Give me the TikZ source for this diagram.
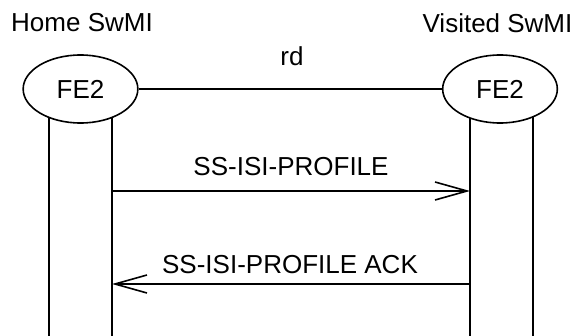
\documentclass[tikz,border=0pt]{standalone}
\usepackage{fontspec}
\setmainfont{Liberation Sans}
\usetikzlibrary{shapes.geometric,arrows.meta}
\begin{document}
\begin{tikzpicture}[x=0.75pt,y=-0.75pt,
  every node/.style={font=\fontsize{19.5}{23}\selectfont, inner sep=0pt},
  ln/.style={line width=1.2pt, line cap=butt},
  fe/.style={ellipse, draw, line width=1.2pt, fill=white, minimum width=86pt, minimum height=51pt},
  msg/.style={ln, -{Straight Barb[length=24pt, width=13.5pt, line width=1.2pt]}},
  lbl/.style={anchor=base}]
\useasboundingbox (0,0) rectangle (577,335);
% lifeline coordinates
\coordinate (h1t) at (49,89);  \coordinate (h1b) at (49,336);
\coordinate (h2t) at (112,89); \coordinate (h2b) at (112,336);
\coordinate (v1t) at (470,89); \coordinate (v1b) at (470,336);
\coordinate (v2t) at (533,89); \coordinate (v2b) at (533,336);
\draw[ln] (h1t) -- (h1b);
\draw[ln] (h2t) -- (h2b);
\draw[ln] (v1t) -- (v1b);
\draw[ln] (v2t) -- (v2b);
% FE nodes
\node[fe] (feh) at (80.5,89) {FE2};
\node[fe] (fev) at (500,89) {FE2};
\draw[ln] (feh) -- (fev);
% labels
\node[lbl] (home) at (82,31.7) {Home SwMI};
\node[lbl] (visited) at (497.5,32.5) {Visited SwMI};
\node[lbl] (rd) at (292,65.7) {rd};
% messages
\coordinate (m1s) at (112,191); \coordinate (m1e) at (470,191);
\coordinate (m2s) at (470,284); \coordinate (m2e) at (112,284);
\draw[msg] (m1s) -- (m1e);
\draw[msg] (m2s) -- (m2e);
\node[lbl] (t1) at (291,175) {SS-ISI-PROFILE};
\node[lbl] (t2) at (290,273.3) {SS-ISI-PROFILE ACK};
\end{tikzpicture}
\end{document}
